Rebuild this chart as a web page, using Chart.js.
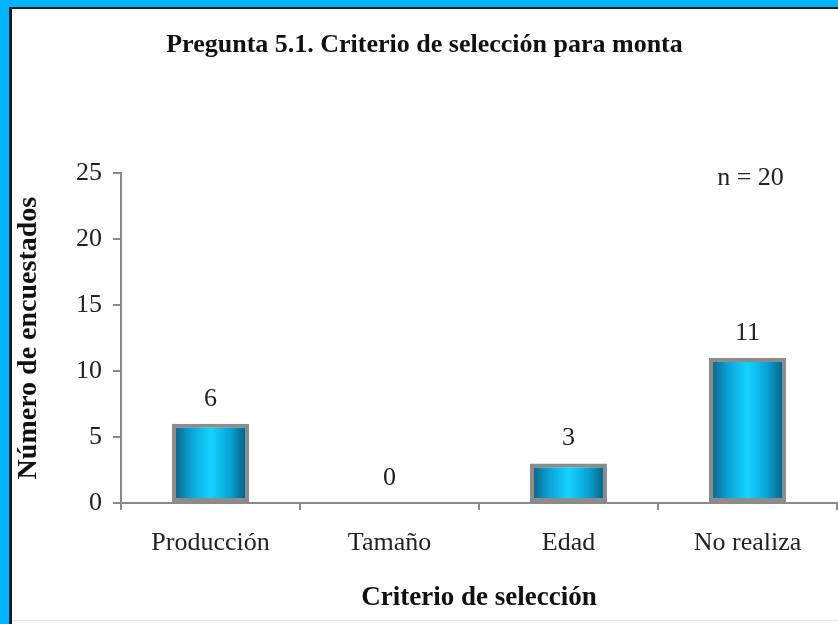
<!DOCTYPE html>
<html>
<head>
<meta charset="utf-8">
<script src="https://cdn.jsdelivr.net/npm/chart.js@4.4.1/dist/chart.umd.min.js"></script>
<style>
  body { margin: 0; background: #00b4ff; width: 838px; height: 624px; overflow: hidden; }
  .frame {
    position: absolute; left: 9px; top: 7px; width: 829px; height: 617px;
    background: #fff; border-left: 3px solid #1a1a1a; border-top: 2px solid #1a1a1a;
    box-sizing: border-box;
  }
  .frame canvas { position: absolute; left: 0; top: 0; }
  .frame .bottomline { position: absolute; left: 0; right: 0; top: 611px; height: 1px; background: #e6e6e6; }
</style>
</head>
<body>
<div class="frame">
  <canvas id="myChart" width="826" height="615"></canvas>
  <div class="bottomline"></div>
</div>
<script>
// data
var categories = ["Producción", "Tamaño", "Edad", "No realiza"];
var encuestados = [6, 0, 3, 11];
var yTicks = [0, 5, 10, 15, 20, 25];
var nLabel = "n = 20";

var serif = '"Liberation Serif", "Times New Roman", serif';
var axisGrey = '#8a8a8a';
var barPct = 0.43;

// horizontal "cylinder" gradient for each bar, built from the x scale
function barGradient(c) {
  var chart = c.chart;
  var xs = chart.scales.x;
  if (!xs || !chart.chartArea) return '#13b8e8';
  var center = xs.getPixelForValue(c.dataIndex);
  var half = (xs.width / categories.length) * barPct / 2;
  var g = chart.ctx.createLinearGradient(center - half, 0, center + half, 0);
  g.addColorStop(0, '#0a5a7c');
  g.addColorStop(0.25, '#0aa4d6');
  g.addColorStop(0.5, '#12d4ff');
  g.addColorStop(0.75, '#0aa4d6');
  g.addColorStop(1, '#075576');
  return g;
}

// values above bars + the "n = 20" note
var labelsPlugin = {
  id: 'valueLabels',
  afterDatasetsDraw: function(chart) {
    var ctx = chart.ctx;
    var meta = chart.getDatasetMeta(0);
    ctx.save();
    ctx.font = '26px ' + serif;
    ctx.fillStyle = '#222';
    ctx.textAlign = 'center';
    ctx.textBaseline = 'alphabetic';
    meta.data.forEach(function(bar, i) {
      ctx.fillText(String(encuestados[i]), bar.x, bar.y - 18);
    });
    var xs = chart.scales.x;
    ctx.fillText(nLabel, xs.getPixelForValue(3) + 3, chart.chartArea.top + 12);
    ctx.restore();
  }
};

var chart = new Chart(document.getElementById('myChart'), {
  type: 'bar',
  data: {
    labels: categories,
    datasets: [{
      data: encuestados,
      backgroundColor: barGradient,
      borderColor: '#8c8c8c',
      borderWidth: 4,
      borderSkipped: false,
      barPercentage: barPct,
      categoryPercentage: 1
    }]
  },
  options: {
    responsive: false,
    animation: false,
    layout: { padding: { left: 0, right: 1, top: 0, bottom: 10 } },
    plugins: {
      legend: { display: false },
      tooltip: { enabled: false },
      title: {
        display: true,
        text: 'Pregunta 5.1. Criterio de selección para monta',
        color: '#111',
        font: { family: serif, size: 26, weight: 'bold' },
        padding: { top: 21, bottom: 112 }
      }
    },
    scales: {
      x: {
        afterFit: function(s) { s.height = 111; },
        grid: { display: true, drawOnChartArea: false, drawTicks: true, tickLength: 7, offset: true, color: axisGrey, lineWidth: 2 },
        border: { display: true, color: axisGrey, width: 2 },
        ticks: { color: '#222', font: { family: serif, size: 26 }, padding: 18 },
        title: {
          display: true,
          text: 'Criterio de selección',
          color: '#111',
          font: { family: serif, size: 27, weight: 'bold' },
          padding: 0
        }
      },
      y: {
        min: 0,
        max: 25,
        afterFit: function(s) { s.width = 109; },
        afterBuildTicks: function(s) {
          s.ticks = yTicks.map(function(v) { return { value: v }; });
        },
        grid: { display: true, drawOnChartArea: false, drawTicks: true, tickLength: 8, color: axisGrey, lineWidth: 2 },
        border: { display: true, color: axisGrey, width: 2 },
        ticks: { color: '#222', font: { family: serif, size: 26 }, padding: 11 },
        title: {
          display: true,
          text: 'Número de encuestados',
          color: '#111',
          font: { family: serif, size: 28, weight: 'bold' },
          padding: 0
        }
      }
    }
  },
  plugins: [labelsPlugin]
});
</script>
</body>
</html>
